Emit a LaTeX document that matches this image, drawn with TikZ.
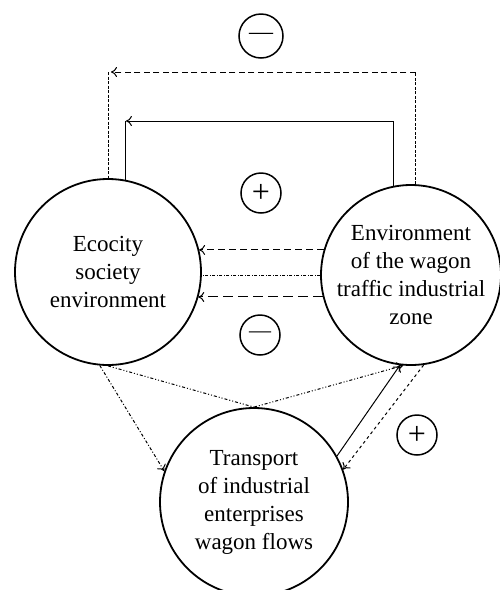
\documentclass[tikz,border=0pt]{standalone}
\usepackage{fontspec}
\setmainfont{Liberation Serif}
\usetikzlibrary{arrows.meta}
\begin{document}
\begin{tikzpicture}[x=1pt,y=-1pt,>={To[length=6pt,width=10pt]},
	bigcirc/.style={draw,circle,line width=1.8pt,inner sep=-5pt,align=center,font=\fontsize{23}{28}\selectfont},
	sign/.style={draw,circle,line width=1.5pt,inner sep=0pt,minimum size=40pt,font=\fontsize{32}{32}\selectfont},
	link/.style={line width=1pt},
	fine/.style={dash pattern=on 3pt off 1.5pt}]
\useasboundingbox (0,0) rectangle (499,590);
\node[bigcirc,minimum size=186pt] (eco) at (108,272) {Ecocity\\society\\environment};
\node[bigcirc,minimum size=180pt] (env) at (411,275) {Environment\\of the wagon\\traffic industrial\\zone};
\node[bigcirc,minimum size=188pt] (wag) at (254,502) {Transport\\of industrial\\enterprises\\wagon flows};

\node[sign,minimum size=44pt,font=\fontsize{24}{24}\selectfont] (m1) at (261,36) {—};
\node[sign] (p1) at (261,193) {+};
\node[sign,font=\fontsize{22}{22}\selectfont] (m2) at (260,335) {—};
\node[sign] (p2) at (417,435) {+};

%loops over the top
\coordinate (dtop) at (0,72);
\coordinate (stop) at (0,121);
\draw[link,fine] (env.87) -- (env.87 |- dtop);
\draw[link,dash pattern=on 6pt off 3.5pt,->] (env.87 |- dtop) -- ([xshift=3pt]eco.north |- dtop);
\draw[link,fine] (eco.north |- dtop) -- (eco.north);
\draw[link,->] (env.101) |- (eco.79 |- stop);
\draw[link] (eco.79 |- stop) -- (eco.79);

%between the two upper circles
\draw[link,dash pattern=on 7pt off 4pt,->] (env.164) -- (eco.14 |- env.164);
\draw[link,dash pattern=on 3pt off 1.5pt on 1pt off 1.5pt] (env.west) -- (env.west -| eco.east);
\draw[link,dash pattern=on 10pt off 5pt,->] (env.194) -- (eco.-16 |- env.194);

%down to the wagon flows
\draw[link,dash dot,->] (eco.-95) -- (wag.161);
\draw[link,dash dot dot] (eco.south) -- (wag.north);
\draw[link,dash dot dot,->] (wag.north) -- (env.-95);
\draw[link,->] (wag.29) -- (env.-97);
\draw[link,dashed,->] (env.-82) -- (wag.20);
\end{tikzpicture}
\end{document}
